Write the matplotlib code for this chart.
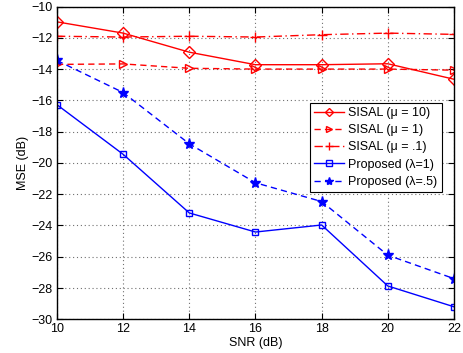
import matplotlib
matplotlib.use("Agg")
import matplotlib.pyplot as plt

plt.rcParams['font.family'] = ['Liberation Sans', 'DejaVu Sans']

snr = [10, 12, 14, 16, 18, 20, 22]
sisal_mu10 = [-10.98, -11.7, -12.92, -13.72, -13.72, -13.66, -14.65]
sisal_mu1 = [-13.7, -13.67, -13.95, -14.0, -14.0, -14.0, -14.07]
sisal_mu01 = [-11.9, -11.95, -11.9, -11.95, -11.8, -11.7, -11.78]
prop_l1 = [-16.28, -19.45, -23.2, -24.42, -23.97, -27.87, -29.2]
prop_l05 = [-13.45, -15.5, -18.78, -21.27, -22.47, -25.9, -27.4]

labels = ["SISAL (\u03bc = 10)", "SISAL (\u03bc = 1)", "SISAL (\u03bc = .1)",
          "Proposed (\u03bb=1)", "Proposed (\u03bb=.5)"]
xticks = [10, 12, 14, 16, 18, 20, 22]
yticks = [-30, -28, -26, -24, -22, -20, -18, -16, -14, -12, -10]

fig = plt.figure(figsize=(4.64, 3.53), dpi=100)
ax = fig.add_axes([0.1228, 0.0955, 0.8556, 0.886])

lw = 1.0
dash = (4.5, 3.0)
dashdot = (6.0, 2.5, 1.0, 2.5)
ax.plot(snr, sisal_mu10, color='red', ls='-', lw=lw, marker='D', ms=6, mfc='none', mec='red', label=labels[0])
ax.plot(snr, sisal_mu1, color='red', ls=(0, dash), lw=lw, marker='>', ms=6, mfc='none', mec='red', label=labels[1])
ax.plot(snr, sisal_mu01, color='red', ls=(0, dashdot), lw=lw, marker='+', ms=7, mec='red', label=labels[2])
ax.plot(snr, prop_l1, color='blue', ls='-', lw=lw, marker='s', ms=5, mfc='none', mec='blue', label=labels[3])
ax.plot(snr, prop_l05, color='blue', ls=(0, dash), lw=lw, marker='*', ms=8, mfc='blue', mec='blue', label=labels[4])

ax.set_xlim(10, 22)
ax.set_ylim(-30, -10)
ax.set_xticks(xticks)
ax.set_yticks(yticks)
ax.set_yticklabels(["\u2212%d" % abs(v) for v in yticks])
ax.grid(True, ls=(0, (1, 2.5)), color='#707070', lw=0.8)
ax.tick_params(direction='in', top=True, right=True, labelsize=9, length=4, pad=3)
for s in ax.spines.values():
    s.set_linewidth(1.0)
ax.set_xlabel("SNR (dB)", fontsize=9, labelpad=1)
ax.set_ylabel("MSE (dB)", fontsize=9, labelpad=2)

leg = ax.legend(loc='upper right', bbox_to_anchor=(0.969, 0.693), fontsize=9,
                frameon=True, fancybox=False, edgecolor='black', framealpha=1,
                borderpad=0.35, labelspacing=0.42, handlelength=2.4, handletextpad=0.3,
                borderaxespad=0, markerscale=0.75)
leg.get_frame().set_linewidth(0.8)

fig.savefig("out.png", dpi=100)
